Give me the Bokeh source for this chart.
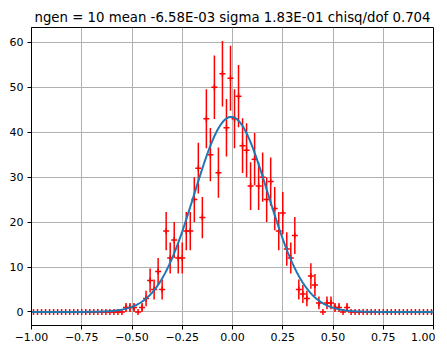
import numpy as np
from bokeh.plotting import figure
from bokeh.models import FixedTicker, ColumnDataSource, Range1d
from bokeh.embed import file_html
from bokeh.resources import INLINE

# histogram definition: 100 bins from -1 to 1
bin_lo = -1.0
bin_hi = 1.0
n_bins = 100

# counts per bin
counts = [
    0, 0, 0, 0, 0, 0, 0, 0, 0, 0,
    0, 0, 0, 0, 0, 0, 0, 0, 0, 0,
    0, 0, 0, 1, 1, 1, 0, 1, 3, 7,
    5, 9, 5, 18, 12, 16, 12, 12, 18, 18,
    25, 32, 21, 43, 35, 50, 31, 53, 41, 52,
    43, 48, 37, 36, 28, 34, 28, 30, 25, 29,
    23, 18, 22, 14, 12, 17, 5, 4, 3, 8,
    6, 2, 0, 2, 2, 1, 1, 0, 1, 0,
    0, 0, 0, 0, 0, 0, 0, 0, 0, 0,
    0, 0, 0, 0, 0, 0, 0, 0, 0, 0,
]

# gaussian fit parameters (from the title)
fit_mean = -6.58e-03
fit_sigma = 1.83e-01
fit_amplitude = 43.4

title_text = "ngen = 10 mean -6.58E-03 sigma 1.83E-01 chisq/dof 0.704"

x_ticks = [-1.0, -0.75, -0.5, -0.25, 0.0, 0.25, 0.5, 0.75, 1.0]
x_tick_labels = ["\u22121.00", "\u22120.75", "\u22120.50", "\u22120.25", "0.00",
                 "0.25", "0.50", "0.75", "1.00"]
y_ticks = [0, 10, 20, 30, 40, 50, 60]
y_tick_labels = ["0", "10", "20", "30", "40", "50", "60"]

edges = np.linspace(bin_lo, bin_hi, n_bins + 1)
centers = 0.5 * (edges[:-1] + edges[1:])
cnt = np.array(counts, dtype=float)
err = np.sqrt(cnt)

src = ColumnDataSource(dict(x=centers, y=cnt, lo=cnt - err, hi=cnt + err))

xf = np.linspace(bin_lo, bin_hi, 500)
yf = fit_amplitude * np.exp(-0.5 * ((xf - fit_mean) / fit_sigma) ** 2)

ymax = float(np.max(cnt + err))
ymin = 0.0
pad = 0.05 * (ymax - ymin)

p = figure(
    frame_width=402, frame_height=298,
    x_range=Range1d(bin_lo, bin_hi),
    y_range=Range1d(ymin - pad, ymax + pad),
    output_backend="svg", toolbar_location=None,
    min_border_left=31, min_border_right=2, min_border_top=27, min_border_bottom=16,
    title=title_text,
)
p.background_fill_color = "white"
p.border_fill_color = "white"
p.outline_line_color = "black"
p.outline_line_width = 1
p.outline_line_alpha = 1

p.title.align = "center"
p.title.text_font = "DejaVu Sans"
p.title.text_font_size = "13.3px"
p.title.text_font_style = "normal"
p.title.text_color = "black"
p.title.standoff = 5

for ax in (p.xaxis[0], p.yaxis[0]):
    ax.major_label_text_font = "DejaVu Sans"
    ax.major_label_text_font_size = "11px"
    ax.major_label_text_color = "black"
    ax.major_tick_out = 4
    ax.major_tick_in = 0
    ax.minor_tick_out = 0
    ax.minor_tick_in = 0
    ax.major_tick_line_color = "black"
    ax.axis_line_color = "black"
    ax.major_label_standoff = 4
p.xaxis[0].major_label_standoff = 3

p.xaxis[0].ticker = FixedTicker(ticks=x_ticks)
p.xaxis[0].major_label_overrides = dict(zip(x_ticks, x_tick_labels))
p.yaxis[0].ticker = FixedTicker(ticks=y_ticks)
p.yaxis[0].major_label_overrides = dict(zip(y_ticks, y_tick_labels))

p.grid.grid_line_color = "#b0b0b0"
p.grid.grid_line_width = 1

p.segment(x0="x", y0="lo", x1="x", y1="hi", source=src, line_color="red", line_width=1.5)
p.scatter(x="x", y="y", source=src, marker="cross", size=6, line_color="red", line_width=1.5)
p.line(xf, yf, line_color="#1f77b4", line_width=2)

open("out.html", "w").write(file_html(p, INLINE))
